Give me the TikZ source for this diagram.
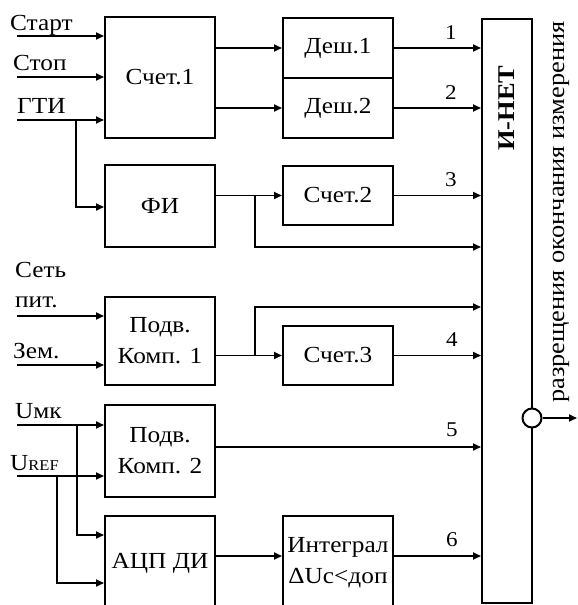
\documentclass[tikz,border=0pt]{standalone}
\usepackage{fontspec}
\setmainfont{Liberation Serif}[FakeStretch=1.1]
\usetikzlibrary{arrows.meta,calc}
\begin{document}
\begin{tikzpicture}[x=1pt,y=-1pt,
 blk/.style={draw,line width=2pt,inner sep=0pt,align=center,font=\fontsize{23}{31}\selectfont},
 con/.style={line width=1.8pt},
 arr/.style={con,-{Triangle[length=8pt,width=7pt]}},
 lbl/.style={inner sep=0pt,font=\fontsize{23}{26}\selectfont},
 num/.style={inner sep=0pt,font=\fontsize{21}{24}\selectfont}]
\useasboundingbox (0,0) rectangle (578,605);
\clip (0,0) rectangle (578,605);
% blocks
\node[blk,minimum width=110pt,minimum height=121pt] (c1) at (160,77.5) {Счет.1};
\node[blk,minimum width=110pt,minimum height=60pt] (d1) at (338,48) {Деш.1};
\node[blk,minimum width=110pt,minimum height=60pt] (d2) at (338,108) {Деш.2};
\node[blk,minimum width=50pt,minimum height=584pt] (and) at (507,311) {};
\node[inner sep=0pt,rotate=90,font=\fontsize{24}{28}\selectfont\bfseries] (andl) at (507,108) {И-НЕТ};
\node[blk,minimum width=110pt,minimum height=82pt] (fi) at (160,206) {ФИ};
\node[blk,minimum width=110pt,minimum height=59pt] (c2) at (338,195.5) {Счет.2};
\node[blk,minimum width=110pt,minimum height=88pt] (p1) at (160,341) {Подв.\\Комп. 1};
\node[blk,minimum width=110pt,minimum height=59pt] (c3) at (338,355.5) {Счет.3};
\node[blk,minimum width=110pt,minimum height=92pt] (p2) at (160,451) {Подв.\\Комп. 2};
\node[blk,minimum width=110pt,minimum height=94pt] (adc) at (160,563) {АЦП ДИ};
\node[blk,minimum width=110pt,minimum height=94pt] (int) at (338,563) {Интеграл\\ΔUc<доп};
% inputs
\coordinate (iStart) at (17,36);
\coordinate (iStop) at (17,77);
\coordinate (iGti) at (17,120);
\coordinate (iNet) at (17,316);
\coordinate (iGnd) at (17,365);
\coordinate (iUmk) at (17,425);
\coordinate (iUref) at (17,476);
\node[lbl,anchor=base west] (tStart) at (10,30) {Старт};
\node[lbl,anchor=base west] (tStop) at (13,70) {Стоп};
\node[lbl,anchor=base west] (tGti) at (17,113) {ГТИ};
\node[lbl,anchor=base west] (tNet) at (15,277) {Сеть};
\node[lbl,anchor=base west] (tPit) at (15,307) {пит.};
\node[lbl,anchor=base west] (tGnd) at (13,358) {Зем.};
\node[lbl,anchor=base west] (tUmk) at (15,418) {Uмк};
\node[lbl,anchor=base west] (tUref) at (10,470) {U{\fontsize{15}{18}\selectfont REF}};
\draw[arr] (iStart) -- (iStart -| c1.west);
\draw[arr] (iStop) -- (iStop -| c1.west);
\draw[arr] (iGti) -- (iGti -| c1.west);
\coordinate (bGti) at (76,120);
\draw[arr] (bGti) |- (fi.west |- 0,207);
\draw[arr] (iNet) -- (iNet -| p1.west);
\draw[arr] (iGnd) -- (iGnd -| p1.west);
\draw[arr] (iUmk) -- (iUmk -| p2.west);
\draw[arr] (iUref) -- (iUref -| p2.west);
\coordinate (bUmk) at (77,425);
\coordinate (bUref) at (57,476);
\draw[arr] (bUmk) |- (adc.west |- 0,535);
\draw[arr] (bUref) |- (adc.west |- 0,583);
% internal
\draw[arr] (c1.east |- d1) -- (d1.west);
\draw[arr] (c1.east |- d2) -- (d2.west);
\draw[arr] (d1.east) -- (d1.east -| and.west);
\draw[arr] (d2.east) -- (d2.east -| and.west);
\draw[arr] (fi.east |- c2) -- (c2.west);
\coordinate (bFi) at (255,195.5);
\draw[arr] (bFi) |- (and.west |- 0,247);
\draw[arr] (c2.east) -- (c2.east -| and.west);
\draw[arr] (p1.east |- c3) -- (c3.west);
\coordinate (bP1) at (255,355.5);
\draw[arr] (bP1) |- (and.west |- 0,307);
\draw[arr] (c3.east) -- (c3.east -| and.west);
\draw[arr] (p2.east |- 0,447) -- (and.west |- 0,447);
\draw[arr] (adc.east |- 0,556) -- (int.west |- 0,556);
\draw[arr] (int.east |- 0,556) -- (and.west |- 0,556);
% numbers
\node[num] (n1) at (451,33) {1};
\node[num] (n2) at (451,93) {2};
\node[num] (n3) at (451,180) {3};
\node[num] (n4) at (452,340) {4};
\node[num] (n5) at (452,430) {5};
\node[num] (n6) at (452,540) {6};
% output
\node[draw,circle,line width=2pt,fill=white,minimum size=19pt,inner sep=0pt] (inv) at (532,418) {};
\coordinate (out) at (577,418);
\draw[arr] (inv.east) -- (out);
\node[lbl,rotate=90,font=\fontsize{24}{26}\selectfont] (vt) at (561,212) {разрещения окончания измерения};
\end{tikzpicture}
\end{document}
